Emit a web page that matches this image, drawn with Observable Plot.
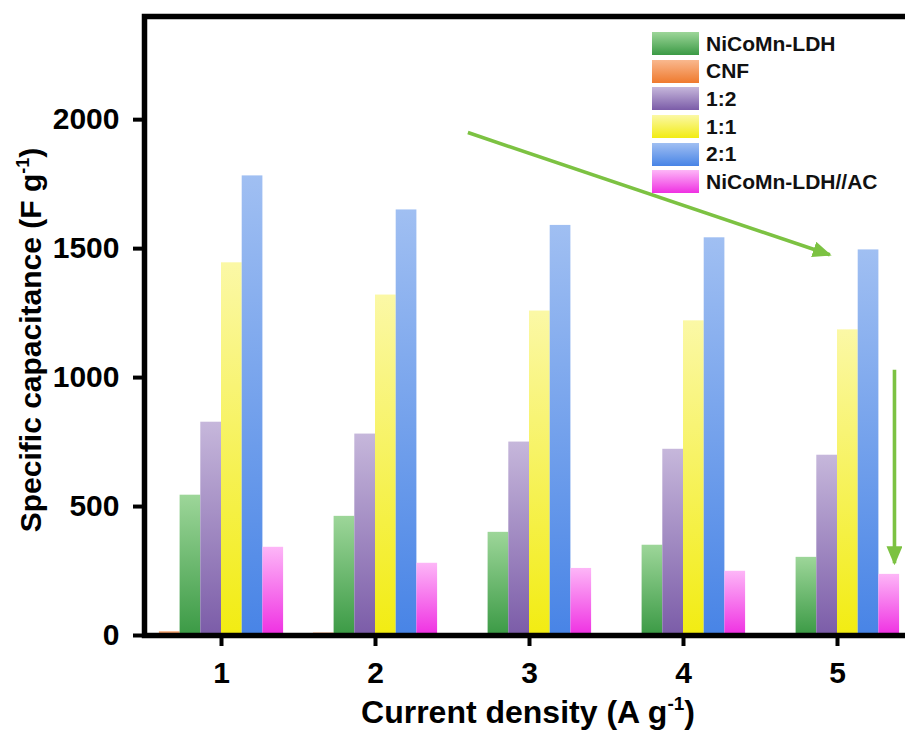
<!DOCTYPE html>
<html>
<head>
<meta charset="utf-8">
<script src="https://cdn.jsdelivr.net/npm/d3@7"></script>
<script src="https://cdn.jsdelivr.net/npm/@observablehq/plot@0.6"></script>
<style>
  html, body { margin: 0; padding: 0; background: #fff; }
  #wrap { position: relative; width: 905px; height: 731px; overflow: hidden; background: #fff; }
  #legend { position: absolute; left: 652px; top: 30px; font-family: "Liberation Sans", Arial, sans-serif; font-weight: bold; font-size: 21px; color: #111; }
  #legend .row { display: flex; align-items: center; height: 27.6px; }
  #legend .sw { width: 47px; height: 23px; margin-right: 7px; }
</style>
</head>
<body>
<div id="wrap"><div id="legend"></div></div>
<script>
// ---- data ----
const densities = [1, 2, 3, 4, 5];
const series = ["CNF", "NiCoMn-LDH", "1:2", "1:1", "2:1", "NiCoMn-LDH//AC"]; // bar order in a group
const legendOrder = ["NiCoMn-LDH", "CNF", "1:2", "1:1", "2:1", "NiCoMn-LDH//AC"];
const cnf   = [15, 10, 0, 0, 0];
const ldh   = [544, 462, 400, 350, 303];
const r12   = [827, 781, 750, 722, 699];
const r11   = [1445, 1320, 1258, 1220, 1185];
const r21   = [1782, 1650, 1590, 1542, 1495];
const ldhAC = [342, 280, 260, 249, 237];
const yTicks = [0, 500, 1000, 1500, 2000];
const gradTop    = ["#f9b88e", "#9dd699", "#c6b7db", "#fbf8a6", "#a0bff2", "#fdb6f7"];
const gradBottom = ["#ef7a2e", "#3b9a45", "#7b5ca8", "#f2ec12", "#4884e6", "#ef30e2"];
const arrows = [
  {x1: 2.6, y1: 1950, x2: 4.95, y2: 1476},
  {x1: 5.37, y1: 1030, x2: 5.37, y2: 280}
];

const valuesBySeries = [cnf, ldh, r12, r11, r21, ldhAC];
const rows = [];
series.forEach((s, k) => densities.forEach((d, i) => {
  rows.push({series: s, k, density: d, value: valuesBySeries[k][i]});
}));
const bw = 0.1344; // bar width in x units

const fontFam = '"Liberation Sans", Arial, sans-serif';

const svg = Plot.plot({
  width: 920,
  height: 731,
  marginLeft: 144,
  marginRight: 6,
  marginTop: 16,
  marginBottom: 96,
  style: {fontFamily: fontFam, fontSize: "30px", fontWeight: "bold", color: "#000", background: "#fff", maxWidth: "none"},
  x: {domain: [0.5, 5.5]},
  y: {domain: [0, 2400]},
  color: {domain: series, range: series.map((s, k) => `url(#grad${k})`)},
  marks: [
    Plot.rect(rows.filter(r => r.value > 0), {
      x1: r => r.density + (r.k - 3) * bw,
      x2: r => r.density + (r.k - 2) * bw,
      y1: 0,
      y2: "value",
      fill: "series"
    }),
    Plot.axisY({ticks: yTicks, tickSize: 11, tickPadding: 14, strokeWidth: 4, tickFormat: d => String(d), label: null}),
    Plot.axisX({ticks: densities, tickSize: 11, tickPadding: 15, strokeWidth: 4, tickFormat: d => String(d), label: null}),
    Plot.frame({stroke: "#000", strokeWidth: 5.5}),
    Plot.link(arrows, {x1: "x1", y1: "y1", x2: "x2", y2: "y2", stroke: "#7cc242", strokeWidth: 3.6})
  ]
});

const s = d3.select(svg);
svg.style.maxWidth = "none";
const defs = s.insert("defs", ":first-child");
series.forEach((name, k) => {
  const g = defs.append("linearGradient").attr("id", `grad${k}`).attr("x1", 0).attr("y1", 0).attr("x2", 0).attr("y2", 1);
  g.append("stop").attr("offset", "0%").attr("stop-color", gradTop[k]);
  g.append("stop").attr("offset", "100%").attr("stop-color", gradBottom[k]);
});
defs.append("marker").attr("id", "ahead").attr("markerUnits", "userSpaceOnUse")
  .attr("viewBox", "0 0 19 16").attr("refX", 17).attr("refY", 8)
  .attr("markerWidth", 19).attr("markerHeight", 16).attr("orient", "auto")
  .append("path").attr("d", "M0,0 L19,8 L0,16 Z").attr("fill", "#7cc242");
s.selectAll('g[aria-label="link"] path').attr("marker-end", "url(#ahead)");

// axis titles
const yt = s.append("text").attr("transform", "translate(41,340) rotate(-90)")
  .attr("text-anchor", "middle").attr("font-size", 30).attr("font-weight", "bold").attr("fill", "#000");
yt.append("tspan").text("Specific capacitance (F g");
yt.append("tspan").attr("font-size", 18).attr("dy", -12).text("-1");
yt.append("tspan").attr("dy", 12).text(")");

const xt = s.append("text").attr("x", 528).attr("y", 723)
  .attr("text-anchor", "middle").attr("font-size", 32).attr("font-weight", "bold").attr("fill", "#000");
xt.append("tspan").text("Current density (A g");
xt.append("tspan").attr("font-size", 19).attr("dy", -13).text("-1");
xt.append("tspan").attr("dy", 13).text(")");

const wrap = document.getElementById("wrap");
wrap.insertBefore(svg, wrap.firstChild);
svg.style.position = "absolute";
svg.style.left = "0";
svg.style.top = "0";

// legend
const legend = d3.select("#legend");
legendOrder.forEach(name => {
  const k = series.indexOf(name);
  const row = legend.append("div").attr("class", "row");
  row.append("div").attr("class", "sw").style("background", `linear-gradient(to bottom, ${gradTop[k]}, ${gradBottom[k]})`);
  row.append("span").text(name);
});
</script>
</body>
</html>
